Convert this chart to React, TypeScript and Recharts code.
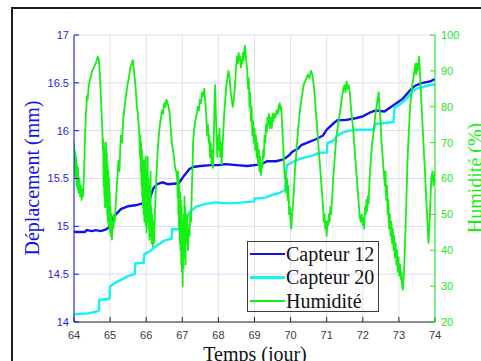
import React from "react";
import {
  LineChart,
  Line,
  XAxis,
  YAxis,
  CartesianGrid,
  Legend,
} from "recharts";

const DAY_TICKS = [64, 65, 66, 67, 68, 69, 70, 71, 72, 73, 74];
const DEPL_TICKS = [14, 14.5, 15, 15.5, 16, 16.5, 17];
const HUM_TICKS = [20, 30, 40, 50, 60, 70, 80, 90, 100];

// [jour, déplacement mm]
const CAPTEUR_12: [number, number][] = [
  [64, 14.94], [64.3, 14.94], [64.35, 14.96], [64.5, 14.95], [64.6, 14.96], [64.75, 14.95],
  [64.9, 14.97], [65.0, 15.0], [65.1, 15.1], [65.3, 15.18], [65.5, 15.21], [65.7, 15.22],
  [65.9, 15.24], [66.1, 15.29], [66.2, 15.4], [66.3, 15.44], [66.45, 15.46], [66.6, 15.44],
  [66.9, 15.45], [67.05, 15.53], [67.2, 15.6], [67.3, 15.62], [67.5, 15.63], [67.8, 15.64],
  [68.0, 15.64], [68.2, 15.65], [68.5, 15.64], [68.8, 15.63], [69.0, 15.64], [69.2, 15.65],
  [69.35, 15.68], [69.6, 15.68], [69.8, 15.7], [69.95, 15.74], [70.05, 15.78], [70.2, 15.81],
  [70.3, 15.85], [70.5, 15.88], [70.7, 15.91], [70.9, 15.95], [71.0, 16.01], [71.2, 16.08],
  [71.3, 16.11], [71.5, 16.11], [71.8, 16.13], [72.0, 16.15], [72.2, 16.19], [72.35, 16.21],
  [72.6, 16.2], [72.75, 16.24], [72.9, 16.28], [73.1, 16.33], [73.3, 16.42], [73.45, 16.47],
  [73.65, 16.5], [73.8, 16.51], [73.9, 16.52], [74, 16.54],
];

const CAPTEUR_20: [number, number][] = [
  [64, 14.08], [64.4, 14.09], [64.62, 14.11], [64.69, 14.12], [64.7, 14.23], [64.95, 14.24],
  [64.99, 14.25], [65.0, 14.37], [65.1, 14.4], [65.3, 14.44], [65.5, 14.48], [65.68, 14.5],
  [65.7, 14.61], [65.93, 14.62], [65.95, 14.71], [66.1, 14.74], [66.3, 14.8], [66.5, 14.85],
  [66.7, 14.87], [66.72, 14.97], [66.9, 14.97], [67.05, 15.05], [67.2, 15.15], [67.4, 15.21],
  [67.6, 15.23], [67.9, 15.25], [68.3, 15.24], [68.7, 15.25], [68.98, 15.26], [69.0, 15.29],
  [69.3, 15.3], [69.5, 15.33], [69.7, 15.35], [69.85, 15.38], [69.87, 15.55], [69.9, 15.64],
  [70.1, 15.68], [70.3, 15.71], [70.6, 15.74], [70.8, 15.77], [71.0, 15.77], [71.02, 15.87],
  [71.2, 15.9], [71.3, 15.95], [71.45, 15.98], [71.6, 16.0], [71.9, 16.01], [72.3, 16.01],
  [72.35, 16.07], [72.6, 16.08], [72.85, 16.09], [72.88, 16.24], [73.05, 16.28], [73.2, 16.33],
  [73.35, 16.4], [73.5, 16.44], [73.7, 16.46], [73.9, 16.48], [74, 16.48],
];

// [jour, humidité %]
const HUMIDITE: [number, number][] = [
  [64.0, 70], [64.01, 63], [64.02, 68], [64.03, 61], [64.04, 67], [64.05, 60], [64.06, 66],
  [64.07, 58], [64.08, 64], [64.1, 57], [64.11, 63], [64.13, 56], [64.15, 60], [64.17, 55],
  [64.19, 58], [64.21, 54], [64.23, 57], [64.25, 55], [64.28, 62], [64.3, 70], [64.33, 78],
  [64.36, 83], [64.38, 82], [64.4, 85], [64.43, 87], [64.46, 88], [64.5, 90], [64.55, 91],
  [64.6, 92], [64.63, 93], [64.66, 94], [64.69, 93], [64.71, 90], [64.73, 86], [64.75, 82],
  [64.77, 77], [64.79, 72], [64.8, 68], [64.81, 71], [64.82, 58], [64.83, 70], [64.84, 55],
  [64.85, 68], [64.86, 52], [64.87, 66], [64.88, 60], [64.89, 70], [64.9, 52], [64.91, 67],
  [64.92, 50], [64.93, 64], [64.94, 48], [64.95, 62], [64.96, 47], [64.97, 60], [64.98, 46],
  [64.99, 56], [65.0, 45], [65.01, 52], [65.02, 44], [65.04, 50], [65.05, 43], [65.07, 48],
  [65.09, 46], [65.11, 50], [65.13, 48], [65.15, 52], [65.17, 55], [65.2, 60], [65.23, 65],
  [65.26, 62], [65.28, 68], [65.3, 72], [65.33, 70], [65.36, 76], [65.4, 80], [65.44, 83],
  [65.48, 86], [65.52, 88], [65.56, 91], [65.6, 92], [65.63, 93], [65.65, 91], [65.68, 88],
  [65.71, 85], [65.74, 80], [65.77, 78], [65.8, 74], [65.82, 70], [65.83, 66], [65.84, 72],
  [65.85, 62], [65.86, 70], [65.87, 58], [65.88, 68], [65.89, 55], [65.9, 66], [65.91, 52],
  [65.92, 64], [65.93, 50], [65.94, 65], [65.95, 48], [65.96, 62], [65.97, 52], [65.98, 66],
  [65.99, 47], [66.0, 60], [66.01, 45], [66.02, 62], [66.03, 50], [66.04, 66], [66.05, 48],
  [66.06, 60], [66.07, 46], [66.08, 56], [66.09, 43], [66.1, 58], [66.11, 45], [66.12, 62],
  [66.13, 44], [66.14, 52], [66.15, 42], [66.17, 50], [66.18, 41], [66.2, 48], [66.22, 42],
  [66.24, 50], [66.26, 55], [66.28, 60], [66.3, 64], [66.32, 68], [66.35, 72], [66.38, 75],
  [66.41, 77], [66.44, 79], [66.47, 78], [66.5, 81], [66.53, 80], [66.56, 82], [66.59, 81],
  [66.62, 80], [66.65, 78], [66.68, 74], [66.71, 70], [66.74, 68], [66.77, 66], [66.8, 63],
  [66.83, 62], [66.86, 60], [66.87, 55], [66.88, 62], [66.89, 50], [66.9, 60], [66.91, 46],
  [66.92, 58], [66.93, 42], [66.94, 56], [66.95, 40], [66.96, 54], [66.97, 36], [66.98, 52],
  [66.99, 34], [67.0, 48], [67.01, 30], [67.02, 45], [67.03, 35], [67.04, 50], [67.05, 38],
  [67.06, 55], [67.07, 40], [67.08, 52], [67.09, 36], [67.1, 48], [67.12, 42], [67.14, 50],
  [67.16, 40], [67.18, 46], [67.2, 44], [67.22, 50], [67.24, 48], [67.26, 55], [67.28, 62],
  [67.3, 70], [67.33, 74], [67.36, 76], [67.4, 78], [67.43, 80], [67.46, 79], [67.49, 82],
  [67.52, 81], [67.55, 84], [67.58, 83], [67.61, 85], [67.63, 82], [67.65, 80], [67.67, 76],
  [67.69, 72], [67.71, 75], [67.73, 70], [67.75, 72], [67.77, 66], [67.79, 70], [67.81, 64],
  [67.83, 68], [67.85, 63], [67.87, 70], [67.89, 80], [67.91, 86], [67.93, 78], [67.95, 72],
  [67.97, 66], [67.99, 72], [68.01, 68], [68.03, 74], [68.05, 66], [68.07, 70], [68.09, 64],
  [68.11, 68], [68.13, 72], [68.16, 78], [68.19, 82], [68.22, 86], [68.25, 88], [68.28, 90],
  [68.31, 88], [68.34, 84], [68.37, 82], [68.4, 80], [68.43, 82], [68.46, 86], [68.49, 91],
  [68.52, 94], [68.54, 92], [68.56, 95], [68.58, 93], [68.6, 94], [68.62, 91], [68.64, 93],
  [68.66, 92], [68.68, 95], [68.7, 93], [68.72, 96], [68.74, 97], [68.76, 94], [68.78, 92],
  [68.8, 90], [68.82, 85], [68.84, 88], [68.86, 80], [68.88, 84], [68.9, 76], [68.92, 80],
  [68.94, 72], [68.96, 76], [68.98, 70], [69.0, 74], [69.02, 68], [69.04, 72], [69.06, 66],
  [69.08, 70], [69.1, 64], [69.12, 68], [69.14, 62], [69.16, 66], [69.18, 61], [69.2, 64],
  [69.22, 63], [69.24, 68], [69.26, 66], [69.28, 72], [69.3, 70], [69.32, 75], [69.34, 73],
  [69.36, 77], [69.38, 75], [69.4, 78], [69.42, 74], [69.44, 77], [69.46, 76], [69.48, 74],
  [69.5, 78], [69.52, 76], [69.55, 78], [69.58, 77], [69.61, 79], [69.64, 78], [69.67, 80],
  [69.7, 81], [69.72, 79], [69.74, 80], [69.76, 76], [69.78, 72], [69.8, 68], [69.82, 64],
  [69.84, 60], [69.86, 62], [69.88, 56], [69.9, 60], [69.92, 54], [69.94, 58], [69.96, 50],
  [69.98, 52], [70.0, 48], [70.02, 46], [70.04, 50], [70.06, 52], [70.08, 55], [70.1, 58],
  [70.12, 62], [70.15, 66], [70.18, 70], [70.21, 74], [70.24, 77], [70.27, 80], [70.3, 82],
  [70.33, 84], [70.36, 86], [70.4, 87], [70.44, 88], [70.48, 89], [70.52, 88], [70.56, 90],
  [70.6, 89], [70.63, 87], [70.66, 84], [70.69, 80], [70.72, 76], [70.75, 72], [70.78, 68],
  [70.81, 64], [70.84, 60], [70.87, 56], [70.9, 52], [70.92, 48], [70.94, 50], [70.96, 46],
  [70.98, 48], [71.0, 44], [71.02, 48], [71.04, 47], [71.06, 50], [71.08, 48], [71.1, 52],
  [71.12, 50], [71.14, 53], [71.16, 56], [71.18, 60], [71.21, 64], [71.24, 68], [71.27, 72],
  [71.3, 74], [71.33, 76], [71.36, 78], [71.4, 81], [71.43, 83], [71.46, 85], [71.49, 86],
  [71.52, 84], [71.55, 87], [71.58, 85], [71.61, 86], [71.64, 84], [71.67, 80], [71.7, 77],
  [71.73, 74], [71.76, 70], [71.79, 66], [71.82, 62], [71.85, 58], [71.88, 54], [71.91, 50],
  [71.94, 48], [71.97, 50], [72.0, 47], [72.02, 49], [72.04, 46], [72.06, 52], [72.08, 50],
  [72.1, 54], [72.12, 51], [72.14, 55], [72.16, 53], [72.18, 58], [72.2, 62], [72.23, 66],
  [72.26, 70], [72.29, 72], [72.32, 75], [72.35, 78], [72.38, 80], [72.41, 82], [72.44, 84],
  [72.46, 80], [72.48, 78], [72.5, 74], [72.52, 70], [72.55, 66], [72.58, 62], [72.61, 58],
  [72.63, 62], [72.65, 54], [72.67, 58], [72.69, 50], [72.71, 54], [72.73, 46], [72.75, 50],
  [72.77, 44], [72.79, 48], [72.81, 42], [72.83, 46], [72.85, 40], [72.87, 44], [72.89, 38],
  [72.91, 42], [72.93, 36], [72.95, 40], [72.97, 34], [72.99, 38], [73.01, 33], [73.03, 36],
  [73.05, 32], [73.07, 34], [73.09, 30], [73.11, 29], [73.13, 32], [73.15, 36], [73.17, 42],
  [73.19, 48], [73.21, 55], [73.23, 62], [73.25, 68], [73.27, 72], [73.29, 76], [73.31, 80],
  [73.34, 83], [73.37, 86], [73.4, 88], [73.43, 90], [73.46, 92], [73.48, 89], [73.5, 92],
  [73.52, 90], [73.54, 91], [73.56, 94], [73.58, 90], [73.6, 86], [73.62, 82], [73.64, 78],
  [73.66, 74], [73.68, 70], [73.7, 66], [73.72, 62], [73.74, 58], [73.76, 54], [73.78, 50],
  [73.8, 46], [73.82, 42], [73.84, 46], [73.86, 50], [73.88, 56], [73.9, 60], [73.93, 62],
  [73.96, 58], [74.0, 62],
];

const BLUE = "#1212ec";
const CYAN = "#10f4f4";
const GREEN = "#14f014";
const SANS = "'Liberation Sans', Arial, sans-serif";
const SERIF = "'Liberation Serif', 'Times New Roman', serif";

const toPoints = (arr: [number, number][]) => arr.map(([x, y]) => ({ x, y }));

const c12 = toPoints(CAPTEUR_12);
const c20 = toPoints(CAPTEUR_20);
const hum = toPoints(HUMIDITE);

const LEGEND_ITEMS = [
  { label: "Capteur 12", color: BLUE, width: 2.6 },
  { label: "Capteur 20", color: CYAN, width: 2.6 },
  { label: "Humidité", color: GREEN, width: 1.4 },
];

function renderLegend() {
  return (
    <div
      style={{
        position: "relative",
        width: 132,
        height: 71,
        boxSizing: "border-box",
        border: "1px solid #3c3c3c",
        fontFamily: SERIF,
        fontSize: 20,
        color: "#111",
      }}
    >
      {LEGEND_ITEMS.map((it, i) => (
        <div
          key={it.label}
          style={{ position: "absolute", left: 0, top: 0.5 + i * 23.5, height: 23.5, lineHeight: "23.5px", width: 130 }}
        >
          <span
            style={{
              position: "absolute",
              left: 2,
              top: 11.5 - it.width / 2,
              width: 35,
              height: it.width,
              background: it.color,
            }}
          />
          <span style={{ position: "absolute", left: 38, top: 0, whiteSpace: "nowrap" }}>{it.label}</span>
        </div>
      ))}
    </div>
  );
}

export default function App() {
  return (
    <div style={{ position: "absolute", left: 0, top: 0, width: 481, height: 361, overflow: "hidden", background: "#fff" }}>
      <div
        style={{
          position: "absolute",
          left: 11,
          top: 7,
          width: 490,
          height: 370,
          border: "2px solid #1e1e1e",
          boxSizing: "border-box",
        }}
      />
      <LineChart width={481} height={361} margin={{ top: 35, right: 6, bottom: 9, left: 14 }}>
        <CartesianGrid xAxisId="bottom" yAxisId="left" horizontal={false} stroke="#e3e3e3" />
        <CartesianGrid xAxisId="bottom" yAxisId="left" vertical={false} stroke="#dadafb" />
        <XAxis
          xAxisId="bottom"
          dataKey="x"
          type="number"
          domain={[64, 74]}
          ticks={DAY_TICKS}
          allowDataOverflow
          height={30}
          tickSize={-5}
          tickMargin={14}
          stroke="#2a2a2a"
          tick={{ fill: "#3a3a3a", fontSize: 11, fontFamily: SANS }}
        />
        <XAxis
          xAxisId="top"
          orientation="top"
          dataKey="x"
          type="number"
          domain={[64, 74]}
          ticks={DAY_TICKS}
          allowDataOverflow
          height={0}
          tickSize={-5}
          tick={false}
          stroke="#2a2a2a"
        />
        <YAxis
          yAxisId="left"
          type="number"
          domain={[14, 17]}
          ticks={DEPL_TICKS}
          allowDataOverflow
          width={60}
          tickSize={-5}
          tickMargin={10}
          stroke={BLUE}
          tick={{ fill: "#2525f0", fontSize: 11, fontFamily: SANS }}
        />
        <YAxis
          yAxisId="right"
          orientation="right"
          type="number"
          domain={[20, 100]}
          ticks={HUM_TICKS}
          allowDataOverflow
          width={40}
          tickSize={-5}
          tickMargin={11}
          stroke={GREEN}
          tick={{ fill: "#22e622", fontSize: 11, fontFamily: SANS, textAnchor: "start" }}
        />
        <Line
          data={c12}
          xAxisId="bottom"
          yAxisId="left"
          dataKey="y"
          type="linear"
          stroke={BLUE}
          strokeWidth={2.4}
          dot={false}
          isAnimationActive={false}
          name="Capteur 12"
        />
        <Line
          data={c20}
          xAxisId="bottom"
          yAxisId="left"
          dataKey="y"
          type="linear"
          stroke={CYAN}
          strokeWidth={2.4}
          dot={false}
          isAnimationActive={false}
          name="Capteur 20"
        />
        <Line
          data={hum}
          xAxisId="bottom"
          yAxisId="right"
          dataKey="y"
          type="linear"
          stroke={GREEN}
          strokeWidth={1.8}
          strokeLinejoin="round"
          dot={false}
          isAnimationActive={false}
          name="Humidité"
        />
        <Legend
          layout="vertical"
          align="center"
          verticalAlign="middle"
          content={renderLegend}
          wrapperStyle={{ left: 247, top: 241, width: 132, height: 71 }}
        />
      </LineChart>
      <div
        style={{
          position: "absolute",
          left: 31.5 - 100,
          top: 178 - 10,
          width: 200,
          height: 20,
          lineHeight: "20px",
          textAlign: "center",
          transform: "rotate(-90deg)",
          fontFamily: SERIF,
          fontSize: 20,
          color: BLUE,
          whiteSpace: "nowrap",
        }}
      >
        Déplacement (mm)
      </div>
      <div
        style={{
          position: "absolute",
          left: 474.5 - 100,
          top: 178 - 10,
          width: 200,
          height: 20,
          lineHeight: "20px",
          textAlign: "center",
          transform: "rotate(-90deg)",
          fontFamily: SERIF,
          fontSize: 20,
          color: GREEN,
          whiteSpace: "nowrap",
        }}
      >
        Humidité (%)
      </div>
      <div
        style={{
          position: "absolute",
          left: 255 - 100,
          top: 343.5,
          width: 200,
          height: 20,
          lineHeight: "20px",
          textAlign: "center",
          fontFamily: SERIF,
          fontSize: 20,
          color: "#111",
          whiteSpace: "nowrap",
        }}
      >
        Temps (jour)
      </div>
    </div>
  );
}
